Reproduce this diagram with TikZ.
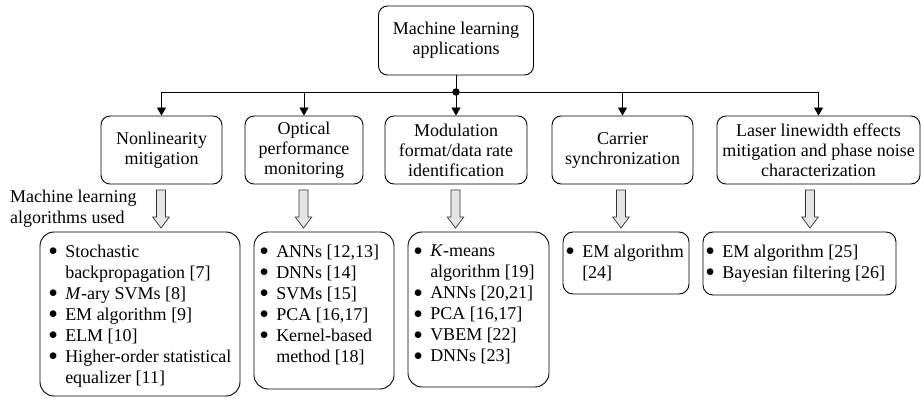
\documentclass[tikz,border=0pt]{standalone}
\usepackage{fontspec}
\setmainfont{Liberation Serif}
\usetikzlibrary{arrows.meta}
\newcommand{\bl}{\makebox[16.5pt][l]{\raisebox{1.5pt}{$\bullet$}}}
\newcommand{\ind}{\hspace*{16.5pt}}
\begin{document}
\begin{tikzpicture}[x=1pt,y=1pt,
  appbox/.style={draw,line width=0.9pt,rounded corners=9pt,align=center,inner sep=0pt,font=\fontsize{18}{20}\selectfont},
  algbox/.style={draw,line width=0.9pt,rounded corners=14pt,inner sep=0pt},
  algtext/.style={anchor=north west,align=left,inner sep=0pt,font=\fontsize{18}{21}\selectfont},
  feed/.style={-{Triangle[length=8pt,width=9pt]},line width=0.8pt},
  hollow/.style={draw=black!80,fill=black!10,line width=0.7pt}]
  \useasboundingbox (0,0) rectangle (922,397);

  % top box and the applications
  \node[appbox,minimum width=155pt,minimum height=69pt] (ml) at (456,356.5) {Machine learning\\applications};
  \node[appbox,minimum width=121pt,minimum height=68pt] (nl) at (161.5,247) {Nonlinearity\\mitigation};
  \node[appbox,minimum width=118pt,minimum height=68pt] (opm) at (304,247) {Optical\\performance\\monitoring};
  \node[appbox,minimum width=142pt,minimum height=68pt] (mfi) at (456,247) {Modulation\\format/data rate\\identification};
  \node[appbox,minimum width=141pt,minimum height=68pt] (cs) at (622.5,247) {Carrier\\synchronization};
  \node[appbox,minimum width=203pt,minimum height=68pt] (las) at (818.5,247) {Laser linewidth effects\\mitigation and phase noise\\characterization};

  \coordinate (hub) at (456,305);
  \draw[line width=0.8pt] (ml) -- (hub);
  \draw[line width=0.8pt] (nl.north |- hub) -- (las.north |- hub);
  \foreach \n in {nl,opm,mfi,cs,las}
    \draw[feed] (\n.north |- hub) -- (\n.north);
  \fill (hub) circle (3.7pt);

  \node[algtext] (used) at (10,207) {Machine learning\\algorithms used};

  % hollow arrows
  \foreach \x in {161,303.5,455.5,621,810}
    \draw[hollow] ({\x-4.5},207) -- ({\x+4.5},207) -- ({\x+4.5},180) -- ({\x+8.3},180)
      -- (\x,169) -- ({\x-8.3},180) -- ({\x-4.5},180) -- cycle;

  % algorithms
  \node[algbox,minimum width=200pt,minimum height=164pt] (nl-alg) at (140,83) {};
  \node[algtext] at ([shift={(9pt,-13pt)}]nl-alg.north west)
    {\bl Stochastic\\\ind backpropagation [7]\\\bl \textit{M}-ary SVMs [8]\\\bl EM algorithm [9]\\\bl ELM [10]\\\bl Higher-order statistical\\\ind equalizer [11]};
  \node[algbox,minimum width=140pt,minimum height=157pt] (opm-alg) at (324,86.5) {};
  \node[algtext] at ([shift={(6pt,-13pt)}]opm-alg.north west)
    {\bl ANNs [12,13]\\\bl DNNs [14]\\\bl SVMs [15]\\\bl PCA [16,17]\\\bl Kernel-based\\\ind method [18]};
  \node[algbox,minimum width=141pt,minimum height=155pt] (mfi-alg) at (478.5,87.5) {};
  \node[algtext] at ([shift={(6pt,-13pt)}]mfi-alg.north west)
    {\bl \textit{K}-means\\\ind algorithm [19]\\\bl ANNs [20,21]\\\bl PCA [16,17]\\\bl VBEM [22]\\\bl DNNs [23]};
  \node[algbox,rounded corners=10pt,minimum width=126pt,minimum height=62pt] (cs-alg) at (626,134) {};
  \node[algtext] at ([shift={(3pt,-13pt)}]cs-alg.north west)
    {\bl EM algorithm\\\ind[24]};
  \node[algbox,rounded corners=10pt,minimum width=193pt,minimum height=63pt] (las-alg) at (799.5,133.5) {};
  \node[algtext] at ([shift={(3pt,-13pt)}]las-alg.north west)
    {\bl EM algorithm [25]\\\bl Bayesian filtering [26]};
\end{tikzpicture}
\end{document}
